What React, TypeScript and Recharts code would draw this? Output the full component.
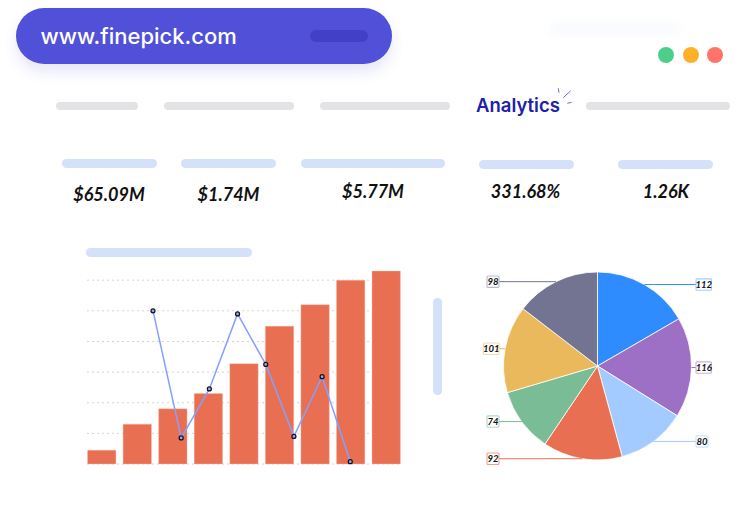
import React from "react";
import { Bar, BarChart, CartesianGrid, Line, LineChart, Pie, PieChart, Cell, XAxis, YAxis } from "recharts";

const barSlots = [1, 2, 3, 4, 5, 6, 7, 8, 9];
const barValues = [9, 26, 36, 46, 65.5, 90, 104, 120, 126];
const lineSlots = ["a", "b", "c", "d", "e", "f", "g", "h"];
const lineValues = [100, 17, 49, 98, 65, 18, 57, 1.5];
const gridTicks = [0, 20, 40, 60, 80, 100, 120];
const pieValues = [112, 116, 80, 92, 74, 101, 98];
const pieColors = ["#2F8CFF", "#9D70C6", "#A4CBFF", "#E86F52", "#79BC96", "#EAB95C", "#737492"];
const pieBorders = ["#A6CCFF", "#C9B0E2", "#CFE3FF", "#F29F8A", "#B0D8C1", "#F6D9A6", "#B9B9CC"];
const statLabels = ["$65.09M", "$1.74M", "$5.77M", "331.68%", "1.26K"];

const barData = barSlots.map((slot, i) => ({ slot, value: barValues[i] }));
const lineData = lineSlots.map((slot, i) => ({ slot, value: lineValues[i] }));
const pieData = pieValues.map((value) => ({ value }));

const statCenters = [109, 228.5, 373, 525.5, 666];
const statTops = [183, 183, 180, 180, 180];

const W = 754;
const H = 518;
const overlay: React.CSSProperties = { position: "absolute", left: 0, top: 0 };

function Pill({ x, y, w, h, color }: { x: number; y: number; w: number; h: number; color: string }) {
  return <div style={{ position: "absolute", left: x, top: y, width: w, height: h, borderRadius: Math.min(w, h) / 2, background: color }} />;
}

function Dot({ x, color }: { x: number; color: string }) {
  return <div style={{ position: "absolute", left: x - 8, top: 47, width: 16, height: 16, borderRadius: 8, background: color }} />;
}

function PieLabel(props: any) {
  const { cx, cy, midAngle, outerRadius, index, value } = props;
  const rad = (midAngle * Math.PI) / 180;
  const ex = cx + outerRadius * Math.cos(rad);
  const ey = cy - outerRadius * Math.sin(rad);
  const right = ex > cx;
  const w = String(value).length > 2 ? 15.5 : 12;
  const edge = right ? 696 : 499;
  const bx = right ? edge : edge - w;
  const by = ey - 5.7;
  return (
    <g>
      <line x1={ex} y1={ey} x2={edge} y2={ey} stroke={pieColors[index]} strokeWidth={1} />
      <rect x={bx} y={by} width={w} height={11.4} rx={1} fill="#fff" stroke={pieBorders[index]} strokeWidth={1.1} />
      <text
        x={bx + w / 2}
        y={ey + 3.3}
        textAnchor="middle"
        fontFamily="Lato"
        fontStyle="italic"
        fontWeight={700}
        fontSize={9.5}
        fill="#111"
      >
        {value}
      </text>
    </g>
  );
}

export default function App() {
  return (
    <div style={{ position: "absolute", left: 0, top: 0, width: W, height: H, background: "#fff", overflow: "hidden", fontFamily: "Inter" }}>
      <div
        style={{
          position: "absolute",
          left: 550,
          top: 18,
          width: 130,
          height: 16,
          background: "linear-gradient(to top, #F5F8FE, #FFFFFF)",
          filter: "blur(4px)",
        }}
      />
      <div
        style={{
          position: "absolute",
          left: 16,
          top: 8,
          width: 376,
          height: 56,
          borderRadius: 28,
          background: "#5050D8",
          boxShadow: "0 8px 14px rgba(80, 80, 216, 0.14)",
        }}
      />
      <div style={{ position: "absolute", left: 40.5, top: 22, color: "#fff", fontSize: 22, fontWeight: 500, lineHeight: "28px", whiteSpace: "nowrap" }}>
        www.finepick.com
      </div>
      <Pill x={310} y={30} w={58} h={12} color="#4240C6" />

      <Dot x={665.7} color="#4BCF8A" />
      <Dot x={691} color="#FFB028" />
      <Dot x={715.3} color="#FF7468" />

      <Pill x={56} y={102} w={82} h={8} color="#E3E3E6" />
      <Pill x={164} y={102} w={130} h={8} color="#E3E3E6" />
      <Pill x={320} y={102} w={130} h={8} color="#E3E3E6" />
      <Pill x={586} y={102} w={144} h={8} color="#E3E3E6" />

      <div style={{ position: "absolute", left: 476, top: 93, color: "#2020A8", fontSize: 18.5, fontWeight: 600, lineHeight: "24px", whiteSpace: "nowrap" }}>
        Analytics
      </div>
      <svg width={W} height={H} style={{ ...overlay, pointerEvents: "none" }}>
        <g stroke="#6C6CE8" strokeWidth={1}>
          <line x1={558.3} y1={88.3} x2={559} y2={92.7} />
          <line x1={563.3} y1={97.7} x2={570.7} y2={90.7} />
          <line x1={567.3} y1={103.3} x2={571.7} y2={102.3} />
        </g>
      </svg>

      <Pill x={62} y={159} w={95} h={9} color="#D4E1F9" />
      <Pill x={181} y={159} w={95} h={9} color="#D4E1F9" />
      <Pill x={301} y={159} w={144} h={9} color="#D4E1F9" />
      <Pill x={479} y={160} w={95} h={9} color="#D4E1F9" />
      <Pill x={618} y={160} w={95} h={9} color="#D4E1F9" />
      {statLabels.map((label, i) => (
        <div
          key={label}
          style={{
            position: "absolute",
            left: statCenters[i] - 60,
            top: statTops[i],
            width: 120,
            textAlign: "center",
            fontFamily: "Lato",
            fontStyle: "italic",
            fontWeight: 700,
            fontSize: 18,
            lineHeight: "22px",
            color: "#111",
          }}
        >
          {label}
        </div>
      ))}

      <Pill x={86} y={248} w={166} h={9} color="#D4E1F9" />
      <Pill x={433} y={298} w={8.5} h={97} color="#D4E1F9" />

      <div style={overlay}>
        <BarChart width={W} height={H} data={barData} margin={{ left: 87, right: 353.9, top: 271, bottom: 54 }}>
          <CartesianGrid horizontal vertical={false} horizontalValues={gridTicks} stroke="#D4D4D4" strokeDasharray="2 3" />
          <XAxis hide type="number" dataKey="slot" domain={[0.598, 9.402]} />
          <YAxis hide domain={[0, 126]} ticks={gridTicks} />
          <Bar dataKey="value" fill="#E86F52" stroke="#F6BFB0" strokeWidth={0.4} barSize={28.4} isAnimationActive={false} />
        </BarChart>
      </div>

      <div style={overlay}>
        <LineChart width={W} height={H} data={lineData} margin={{ left: 153, right: 403.7, top: 271, bottom: 54 }}>
          <XAxis hide dataKey="slot" />
          <YAxis hide domain={[0, 126]} />
          <Line
            dataKey="value"
            stroke="#84A0FF"
            strokeWidth={1.5}
            dot={{ r: 2, fill: "#8FA8FF", stroke: "#111", strokeWidth: 1.2 }}
            isAnimationActive={false}
          />
        </LineChart>
      </div>

      <div style={overlay}>
        <PieChart width={W} height={H} margin={{ left: 0, right: 0, top: 0, bottom: 0 }}>
          <Pie
            data={pieData}
            dataKey="value"
            cx={597.5}
            cy={366}
            outerRadius={94}
            startAngle={90}
            endAngle={-270}
            stroke="#fff"
            strokeWidth={0.8}
            labelLine={false}
            label={PieLabel}
            isAnimationActive={false}
          >
            {pieData.map((entry, index) => (
              <Cell key={`cell-${index}`} fill={pieColors[index]} />
            ))}
          </Pie>
        </PieChart>
      </div>
    </div>
  );
}
